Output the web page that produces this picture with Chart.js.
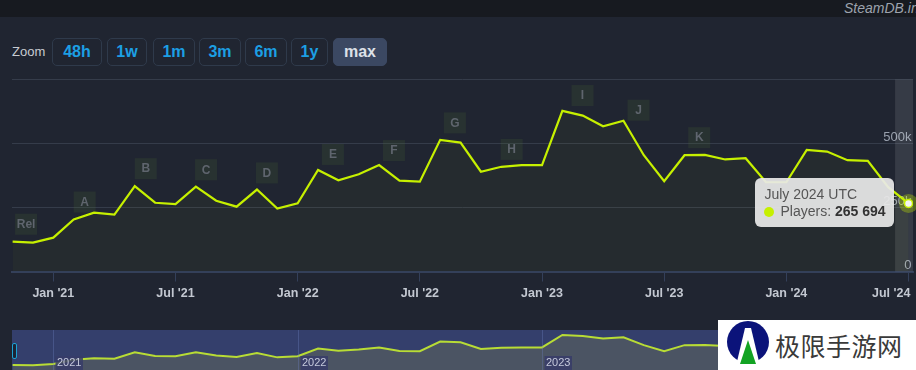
<!DOCTYPE html>
<html>
<head>
<meta charset="utf-8">
<script src="https://cdn.jsdelivr.net/npm/chart.js@4.4.0/dist/chart.umd.min.js"></script>
<style>
  html, body { margin: 0; padding: 0; }
  body {
    width: 916px; height: 370px; overflow: hidden; position: relative;
    background: #202531; font-family: 'Liberation Sans', Arial, sans-serif;
  }
  #topbar { position: absolute; left: 0; top: 0; width: 916px; height: 17px; background: #171a20; }
  #brand { position: absolute; left: 844px; top: 0; line-height: 17px; font-size: 14px; font-style: italic; color: #9da3ad; white-space: nowrap; }
  #zoomlbl { position: absolute; left: 12px; top: 38px; line-height: 28px; font-size: 13px; color: #c8ccd2; }
  .btn {
    position: absolute; top: 38px; height: 26px; line-height: 26px; box-sizing: content-box;
    border: 1px solid #2f3a4b; border-radius: 5px; text-align: center;
    font-size: 16px; font-weight: bold; color: #1c9fe4;
  }
  .btn.on { background: #3b4862; border-color: #3b4862; color: #dde1e8; }
  #mainwrap { position: absolute; left: 0; top: 60px; width: 916px; height: 250px; }
  #navwrap { position: absolute; left: 0; top: 330px; width: 916px; height: 40px; }
  #handle { position: absolute; left: 12px; top: 343px; width: 3px; height: 14px; border: 1px solid #1da1d4; border-radius: 2px; background: #1c2535; }
  #tip {
    position: absolute; padding: 8px 8px 8px 9px; border-radius: 6px;
    background: rgba(232,232,232,0.93); font-size: 14px; line-height: 16.5px; color: #555;
    white-space: nowrap; opacity: 0;
  }
  #tip .dot { display: inline-block; width: 10px; height: 10px; border-radius: 50%; background: #c6f000; margin-right: 6px; vertical-align: -1px; }
  #tip .v { font-weight: bold; color: #333; }
  #wm { position: absolute; left: 718px; top: 320px; width: 198px; height: 50px; background: #fff; }
  #wm svg { position: absolute; left: 0; top: 0; }
  #wm span { position: absolute; left: 57px; top: 8px; font-family: 'Noto Sans CJK SC', sans-serif; font-size: 25px; line-height: 34px; color: #3a3a3a; letter-spacing: 0.5px; }
</style>
</head>
<body>
<div id="topbar"><div id="brand">SteamDB.info</div></div>
<div id="zoomlbl">Zoom</div>
<div class="btn" style="left:52px;width:48px">48h</div>
<div class="btn" style="left:107px;width:38px">1w</div>
<div class="btn" style="left:153px;width:40px">1m</div>
<div class="btn" style="left:199px;width:40px">3m</div>
<div class="btn" style="left:245px;width:40px">6m</div>
<div class="btn" style="left:291px;width:35px">1y</div>
<div class="btn on" style="left:333px;width:52px">max</div>

<div id="mainwrap">
  <canvas id="main" width="916" height="250"></canvas>
  <div id="tip"><div class="t"></div><div><span class="dot"></span>Players: <span class="v"></span></div></div>
</div>
<div id="navwrap"><canvas id="nav" width="916" height="40"></canvas></div>
<div id="handle"></div>

<div id="wm">
  <svg width="60" height="50" viewBox="0 0 60 50">
    <circle cx="30" cy="22" r="21" fill="#0b137a"/>
    <path d="M27 8 L33 8 L43 50 L17 50 Z" fill="#ffffff"/>
    <path d="M30 20 L38 44 L22 44 Z" fill="#13a323"/>
  </svg>
  <span>极限手游网</span>
</div>

<script>
// monthly average players, Nov 2020 .. Jul 2024
const months = [
  'November 2020', 'December 2020',
  'January 2021', 'February 2021', 'March 2021', 'April 2021', 'May 2021', 'June 2021',
  'July 2021', 'August 2021', 'September 2021', 'October 2021', 'November 2021', 'December 2021',
  'January 2022', 'February 2022', 'March 2022', 'April 2022', 'May 2022', 'June 2022',
  'July 2022', 'August 2022', 'September 2022', 'October 2022', 'November 2022', 'December 2022',
  'January 2023', 'February 2023', 'March 2023', 'April 2023', 'May 2023', 'June 2023',
  'July 2023', 'August 2023', 'September 2023', 'October 2023', 'November 2023', 'December 2023',
  'January 2024', 'February 2024', 'March 2024', 'April 2024', 'May 2024', 'June 2024',
  'July 2024'
];
const players = [
  116700, 112800,
  132100, 202900, 229900, 222200, 333100, 268500,
  263500, 331500, 276300, 253100, 319900, 245400,
  265800, 396100, 356300, 379400, 415400, 354700,
  350900, 513900, 503100, 389500, 408800, 415400,
  415400, 627100, 608600, 567200, 588500, 454000,
  352400, 454000, 455200, 437400, 442400, 348500,
  348500, 474500, 468300, 434700, 432000, 329200,
  265694
];

// x ticks (month index from Nov 2020)
const tickMonths = [2, 8, 14, 20, 26, 32, 38, 44];
const tickLabels = ["Jan '21", "Jul '21", "Jan '22", "Jul '22", "Jan '23", "Jul '23", "Jan '24", "Jul '24"];
const yTicks = [0, 250000, 500000, 750000];
const yTickLabels = ['0', '250k', '500k', ''];

// event flags (position in month index)
const flagLabels = ['Rel', 'A', 'B', 'C', 'D', 'E', 'F', 'G', 'H', 'I', 'J', 'K'];
const flagMonths = [0.12, 3.0, 6.0, 8.96, 11.95, 15.19, 18.19, 21.18, 23.97, 27.45, 30.2, 33.18];

// navigator year marks
const yearMonths = [2, 14, 26, 38];
const yearLabels = ['2021', '2022', '2023', '2024'];

const hoverIndex = players.length - 1;
const LINE = '#c6f000';
const FONT = "'Liberation Sans', Arial, sans-serif";
const X_MIN = -0.03, X_MAX = 44.22;

const fmt = v => String(v).replace(/\B(?=(\d{3})+(?!\d))/g, ' ');

function valueAt(m) {
  const i = Math.max(0, Math.min(players.length - 2, Math.floor(m)));
  const t = m - i;
  return players[i] + (players[i + 1] - players[i]) * t;
}

const mainDecor = {
  id: 'mainDecor',
  beforeDatasetsDraw(chart) {
    const {ctx, chartArea: a, scales: {x, y}} = chart;
    ctx.save();
    // hover band
    const bx = x.getPixelForValue(hoverIndex - 0.66);
    ctx.fillStyle = 'rgba(255,255,255,0.1)';
    ctx.fillRect(bx, a.top, a.right - bx, a.bottom - a.top);

    // flags
    ctx.font = 'bold 12px ' + FONT;
    ctx.textAlign = 'center';
    ctx.textBaseline = 'middle';
    flagMonths.forEach((m, i) => {
      const fx = x.getPixelForValue(m);
      const bottom = y.getPixelForValue(valueAt(m)) - 7;
      ctx.fillStyle = 'rgba(80,110,50,0.18)';
      ctx.fillRect(fx, bottom - 21, 22, 21);
      ctx.fillStyle = '#5f656e';
      ctx.fillText(flagLabels[i], fx + 11, bottom - 10);
    });

    // halo around hovered point
    const pt = chart.getDatasetMeta(0).data[hoverIndex];
    ctx.beginPath();
    ctx.arc(pt.x, pt.y, 9.5, 0, Math.PI * 2);
    ctx.fillStyle = 'rgba(198,240,0,0.32)';
    ctx.fill();
    ctx.restore();
  }
};

const mainChart = new Chart(document.getElementById('main'), {
  type: 'line',
  data: {
    datasets: [{
      data: players.map((v, i) => ({x: i, y: v})),
      borderColor: LINE,
      borderWidth: 2.2,
      fill: 'origin',
      backgroundColor: 'rgba(190,230,0,0.035)',
      pointRadius: 0,
      pointHoverRadius: 4,
      pointHoverBorderWidth: 1.5,
      pointHoverBackgroundColor: '#f4f4f4',
      pointHoverBorderColor: LINE,
      tension: 0
    }]
  },
  options: {
    responsive: false,
    animation: false,
    events: [],
    layout: { autoPadding: false, padding: { left: 12, right: 0, top: 19.4, bottom: 3.5 } },
    plugins: {
      legend: { display: false },
      tooltip: {
        enabled: false,
        external({chart, tooltip}) {
          const tip = document.getElementById('tip');
          if (tooltip.opacity === 0 || !tooltip.dataPoints || !tooltip.dataPoints.length) {
            tip.style.opacity = 0;
            return;
          }
          const dp = tooltip.dataPoints[0];
          tip.querySelector('.t').textContent = months[dp.dataIndex] + ' UTC';
          tip.querySelector('.v').textContent = fmt(players[dp.dataIndex]);
          tip.style.right = (chart.width - (dp.element.x - 15)) + 'px';
          tip.style.top = (dp.element.y - 25) + 'px';
          tip.style.opacity = 1;
        }
      }
    },
    scales: {
      x: {
        type: 'linear',
        min: X_MIN,
        max: X_MAX,
        afterBuildTicks: s => { s.ticks = tickMonths.map(v => ({value: v})); },
        // labels may hang over the frame; do not shrink the plot for them
        afterFit: s => { s.paddingLeft = 0; s.paddingRight = 0; },
        grid: { drawOnChartArea: false, drawTicks: true, tickLength: 10, color: '#34405a' },
        border: { display: true, color: '#34405a', width: 2 },
        ticks: {
          color: '#c3c8d1',
          font: { family: FONT, size: 12.5, weight: 'bold' },
          padding: 5,
          maxRotation: 0,
          autoSkip: false,
          // last label is pushed left so it stays inside the frame
          callback: (v, i) => i === tickLabels.length - 1 ? tickLabels[i] + '\u00a0'.repeat(10) : tickLabels[i]
        }
      },
      y: {
        position: 'right',
        min: 0,
        max: 750000,
        afterBuildTicks: s => { s.ticks = yTicks.map(v => ({value: v})); },
        afterFit: s => { s.width = 3; s.paddingTop = 0; s.paddingBottom = 0; },
        grid: { color: '#353c4a', drawTicks: false },
        border: { display: false },
        ticks: {
          mirror: true,
          padding: -1.5,
          labelOffset: -6,
          color: '#98a0ad',
          font: { family: FONT, size: 13 },
          callback: (v, i) => yTickLabels[i]
        }
      }
    }
  },
  plugins: [mainDecor]
});

mainChart.setActiveElements([{datasetIndex: 0, index: hoverIndex}]);
mainChart.tooltip.setActiveElements([{datasetIndex: 0, index: hoverIndex}], {x: 0, y: 0});
mainChart.update();

// navigator strip
const navDecor = {
  id: 'navDecor',
  beforeDatasetsDraw(chart) {
    const {ctx, chartArea: a} = chart;
    ctx.save();
    ctx.fillStyle = '#343f6c';
    ctx.fillRect(a.left, a.top, a.right - a.left, a.bottom - a.top);
    ctx.restore();
  },
  afterDatasetsDraw(chart) {
    const {ctx, chartArea: a, scales: {x}} = chart;
    ctx.save();
    ctx.font = '11px ' + FONT;
    ctx.textBaseline = 'middle';
    yearMonths.forEach((m, i) => {
      const gx = Math.round(x.getPixelForValue(m)) + 0.5;
      ctx.strokeStyle = 'rgba(110,125,190,0.35)';
      ctx.lineWidth = 1;
      ctx.beginPath();
      ctx.moveTo(gx, a.top);
      ctx.lineTo(gx, a.bottom);
      ctx.stroke();
      const w = ctx.measureText(yearLabels[i]).width;
      ctx.fillStyle = 'rgba(55,60,105,0.85)';
      ctx.fillRect(gx + 2, 26, w + 3, 14);
      ctx.fillStyle = '#c5c9dc';
      ctx.fillText(yearLabels[i], gx + 3.5, 33);
    });
    ctx.restore();
  }
};

new Chart(document.getElementById('nav'), {
  type: 'line',
  data: {
    datasets: [{
      data: players.map((v, i) => ({x: i, y: v})),
      borderColor: '#b8dc35',
      borderWidth: 2,
      fill: 'start',
      backgroundColor: '#4b5463',
      pointRadius: 0,
      tension: 0
    }]
  },
  options: {
    responsive: false,
    animation: false,
    events: [],
    layout: { autoPadding: false, padding: { left: 12, right: 3, top: 0, bottom: 0 } },
    plugins: { legend: { display: false }, tooltip: { enabled: false } },
    scales: {
      x: { type: 'linear', display: false, min: X_MIN, max: X_MAX },
      y: { display: false, min: 30000, max: 712000 }
    }
  },
  plugins: [navDecor]
});
</script>
</body>
</html>
